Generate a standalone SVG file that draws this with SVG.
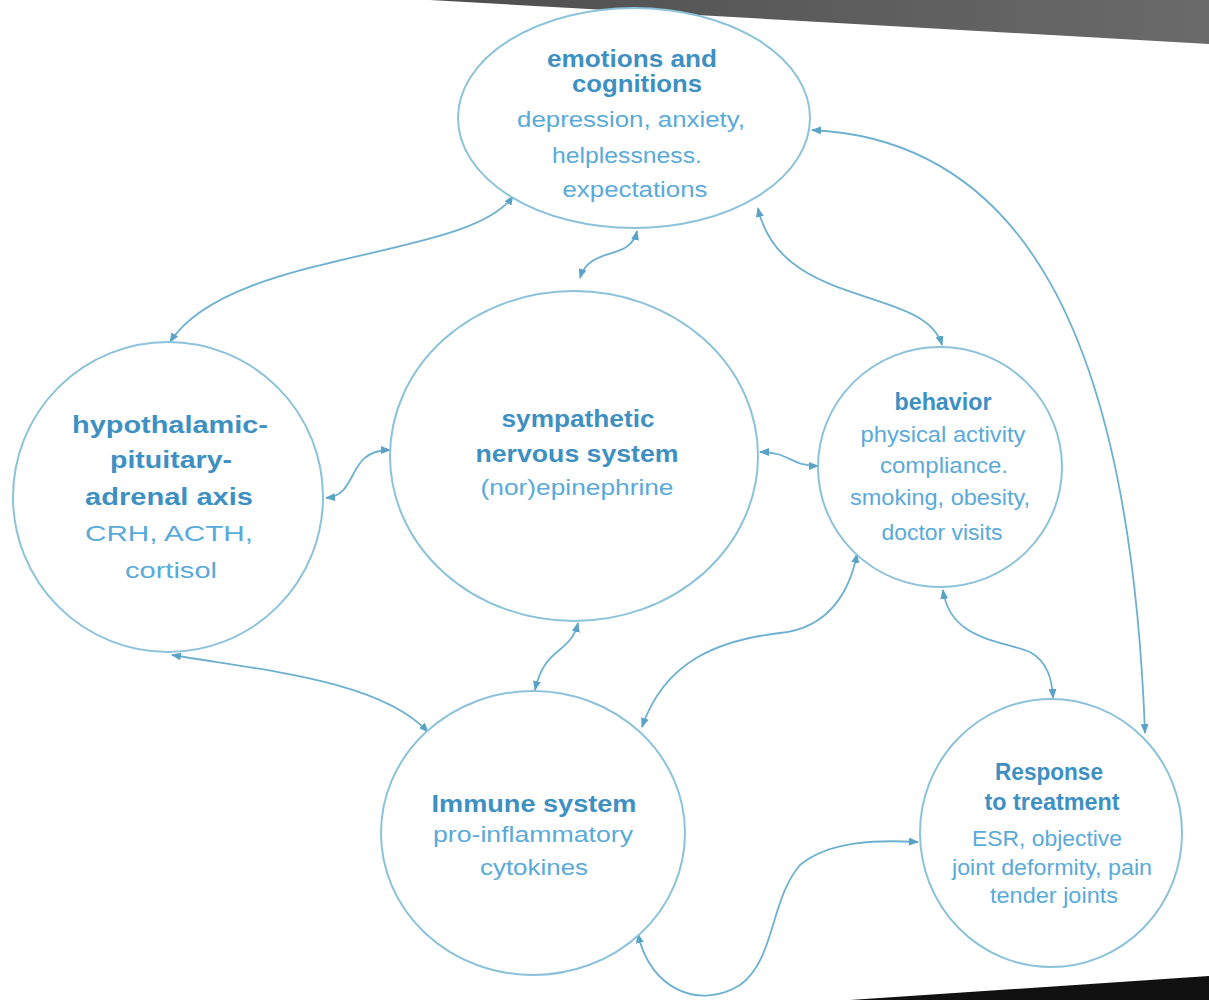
<svg xmlns="http://www.w3.org/2000/svg" width="1209" height="1000" viewBox="0 0 1209 1000">
<defs>
<linearGradient id="topband" x1="0" y1="0" x2="1" y2="0">
<stop offset="0" stop-color="#4e4e4e"/>
<stop offset="1" stop-color="#6a6a6a"/>
</linearGradient>
<marker id="ah" viewBox="0 0 10 8" refX="9" refY="4" markerWidth="10" markerHeight="8" markerUnits="userSpaceOnUse" orient="auto-start-reverse">
<path d="M0,0 L10,4 L0,8 z" fill="#5aa3c6"/>
</marker>
<style>
.node{fill:#ffffff;stroke:#8cc2da;stroke-width:2}
.b{font-family:"Liberation Sans",Arial,sans-serif;font-weight:bold;font-size:23px;fill:#3e8fc2;text-anchor:middle}
.r{font-family:"Liberation Sans",Arial,sans-serif;font-size:22px;fill:#5aaad9;text-anchor:middle}
.c{fill:none;stroke:#6db0d0;stroke-width:1.8;marker-start:url(#ah);marker-end:url(#ah)}
</style>
</defs>
<rect x="0" y="0" width="1209" height="1000" fill="#ffffff"/>
<polygon points="430,0 1209,0 1209,44" fill="url(#topband)"/>
<polygon points="850,1000 1209,976 1209,1000" fill="#111111"/>

<g id="connectors">
<path class="c" d="M 513 196 C 470 260, 230 250, 170 342"/>
<path class="c" d="M 637 231 C 630 262, 590 245, 580 278"/>
<path class="c" d="M 758 208 C 780 310, 925 285, 942 345"/>
<path class="c" d="M 812 130 C 1020 140, 1130 330, 1145 733"/>
<path class="c" d="M 326 498 C 360 495, 345 450, 390 450"/>
<path class="c" d="M 760 452 C 790 452, 790 466, 818 466"/>
<path class="c" d="M 578 623 C 570 655, 545 645, 535 690"/>
<path class="c" d="M 172 655 C 260 670, 380 680, 428 732"/>
<path class="c" d="M 642 727 C 665 660, 720 640, 780 633 C 830 628, 850 590, 857 554"/>
<path class="c" d="M 943 590 C 950 640, 1000 640, 1030 652 C 1048 662, 1052 680, 1053 698"/>
<path class="c" d="M 638 934 C 650 990, 700 1010, 740 985 C 775 960, 770 900, 800 865 C 830 840, 880 840, 918 842"/>
</g>

<g id="emotions">
<ellipse class="node" cx="634" cy="118" rx="176" ry="110"/>
<text class="b" x="632" y="67" textLength="170" lengthAdjust="spacingAndGlyphs">emotions and</text>
<text class="b" x="637" y="92" textLength="130" lengthAdjust="spacingAndGlyphs">cognitions</text>
<text class="r" x="631" y="127" textLength="228" lengthAdjust="spacingAndGlyphs">depression, anxiety,</text>
<text class="r" x="627" y="163" textLength="150" lengthAdjust="spacingAndGlyphs">helplessness.</text>
<text class="r" x="635" y="197" textLength="145" lengthAdjust="spacingAndGlyphs">expectations</text>
</g>

<g id="hpa">
<circle class="node" cx="168" cy="497" r="155"/>
<text class="b" x="170" y="433" textLength="196" lengthAdjust="spacingAndGlyphs">hypothalamic-</text>
<text class="b" x="171" y="468" textLength="122" lengthAdjust="spacingAndGlyphs">pituitary-</text>
<text class="b" x="169" y="505" textLength="168" lengthAdjust="spacingAndGlyphs">adrenal axis</text>
<text class="r" x="169" y="541" textLength="168" lengthAdjust="spacingAndGlyphs">CRH, ACTH,</text>
<text class="r" x="171" y="578" textLength="92" lengthAdjust="spacingAndGlyphs">cortisol</text>
</g>

<g id="sns">
<ellipse class="node" cx="574" cy="456" rx="184" ry="165"/>
<text class="b" x="578" y="427" textLength="153" lengthAdjust="spacingAndGlyphs">sympathetic</text>
<text class="b" x="577" y="462" textLength="203" lengthAdjust="spacingAndGlyphs">nervous system</text>
<text class="r" x="577" y="495" textLength="193" lengthAdjust="spacingAndGlyphs">(nor)epinephrine</text>
</g>

<g id="behavior">
<ellipse class="node" cx="940" cy="467" rx="122" ry="120"/>
<text class="b" x="943" y="410" textLength="97" lengthAdjust="spacingAndGlyphs">behavior</text>
<text class="r" x="943" y="442" textLength="165" lengthAdjust="spacingAndGlyphs">physical activity</text>
<text class="r" x="944" y="473" textLength="128" lengthAdjust="spacingAndGlyphs">compliance.</text>
<text class="r" x="940" y="505" textLength="180" lengthAdjust="spacingAndGlyphs">smoking, obesity,</text>
<text class="r" x="942" y="540" textLength="121" lengthAdjust="spacingAndGlyphs">doctor visits</text>
</g>

<g id="immune">
<ellipse class="node" cx="533" cy="833" rx="152" ry="142"/>
<text class="b" x="534" y="812" textLength="205" lengthAdjust="spacingAndGlyphs">Immune system</text>
<text class="r" x="533" y="842" textLength="200" lengthAdjust="spacingAndGlyphs">pro-inflammatory</text>
<text class="r" x="534" y="875" textLength="108" lengthAdjust="spacingAndGlyphs">cytokines</text>
</g>

<g id="response">
<ellipse class="node" cx="1051" cy="833" rx="131" ry="134"/>
<text class="b" x="1049" y="780" textLength="108" lengthAdjust="spacingAndGlyphs">Response</text>
<text class="b" x="1052" y="810" textLength="135" lengthAdjust="spacingAndGlyphs">to treatment</text>
<text class="r" x="1047" y="846" textLength="150" lengthAdjust="spacingAndGlyphs">ESR, objective</text>
<text class="r" x="1052" y="875" textLength="200" lengthAdjust="spacingAndGlyphs">joint deformity, pain</text>
<text class="r" x="1054" y="903" textLength="128" lengthAdjust="spacingAndGlyphs">tender joints</text>
</g>
</svg>
